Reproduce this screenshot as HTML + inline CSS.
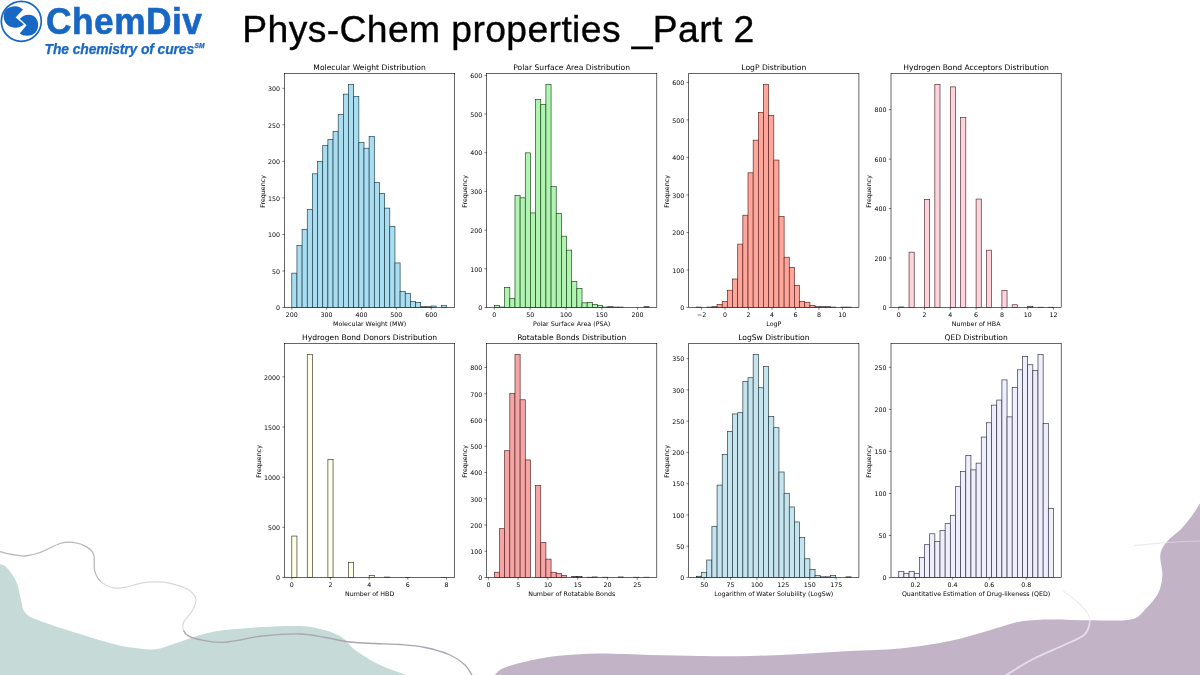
<!DOCTYPE html>
<html><head><meta charset="utf-8"><title>Phys-Chem properties _Part 2</title>
<style>
html,body{margin:0;padding:0;background:#fff;}
body{width:1200px;height:675px;position:relative;overflow:hidden;font-family:"Liberation Sans",sans-serif;}
svg{position:absolute;left:0;top:0;}
svg text{font-family:"DejaVu Sans","Liberation Sans",sans-serif;}
#title{position:absolute;left:242.3px;top:7px;font-size:37.3px;line-height:44px;color:#000;white-space:nowrap;letter-spacing:0.38px;-webkit-text-stroke:0.35px #000;}
#brand{position:absolute;left:46.2px;top:-1.4px;font-size:37.6px;line-height:44px;font-weight:bold;color:#1767c4;white-space:nowrap;letter-spacing:0.5px;transform-origin:0 0;transform:scaleX(0.94);-webkit-text-stroke:0.6px #1767c4;}
#tag{position:absolute;left:44.6px;top:41.3px;font-size:13.9px;line-height:16px;font-weight:bold;font-style:italic;color:#1767c4;white-space:nowrap;letter-spacing:-0.12px;-webkit-text-stroke:0.25px #1767c4;}
#tag sup{font-size:6.6px;font-style:italic;vertical-align:baseline;position:relative;top:-6.6px;margin-left:0.5px;letter-spacing:0;}
</style></head><body>
<svg width="1200" height="675" viewBox="0 0 1200 675">

<path d="M-2.0 564.0C-0.8 564.3 2.6 564.2 5.0 566.0C7.4 567.8 10.4 571.8 12.5 575.0C14.6 578.2 16.1 580.8 17.5 585.0C18.9 589.2 19.8 595.4 21.0 600.0C22.2 604.6 22.2 609.2 25.0 612.5C27.8 615.8 29.2 616.7 37.5 620.0C45.8 623.3 62.5 628.5 75.0 632.5C87.5 636.5 103.2 641.2 112.5 643.8C121.8 646.2 123.9 646.6 131.0 647.5C138.1 648.4 147.7 650.0 155.0 649.3C162.3 648.6 167.5 645.9 175.0 643.5C182.5 641.1 191.7 637.2 200.0 635.0C208.3 632.8 214.6 631.3 225.0 630.0C235.4 628.7 250.0 627.7 262.5 627.0C275.0 626.3 290.4 625.7 300.0 626.0C309.6 626.3 313.3 627.3 320.0 629.0C326.7 630.7 334.2 632.5 340.0 636.0C345.8 639.5 349.2 645.6 355.0 650.0C360.8 654.4 368.3 659.0 375.0 662.5C381.7 666.0 388.8 668.6 395.0 671.0C401.2 673.4 409.2 676.0 412.0 677.0L-2 677Z" fill="#c6dad8"/>
<path d="M493.0 677.0C494.2 675.8 496.8 672.0 500.0 670.0C503.2 668.0 506.2 666.8 512.5 665.0C518.8 663.2 529.2 660.6 537.5 659.0C545.8 657.4 552.1 656.4 562.5 655.5C572.9 654.6 585.4 653.6 600.0 653.5C614.6 653.4 633.3 654.6 650.0 655.0C666.7 655.4 683.3 655.8 700.0 656.0C716.7 656.2 733.3 656.3 750.0 656.0C766.7 655.7 783.3 654.8 800.0 654.0C816.7 653.2 833.3 651.9 850.0 651.0C866.7 650.1 883.3 650.2 900.0 648.5C916.7 646.8 935.2 644.0 950.0 641.0C964.8 638.0 977.6 633.8 989.0 630.6C1000.4 627.4 1008.8 623.8 1018.6 622.0C1028.4 620.2 1036.2 619.9 1048.0 619.6C1059.8 619.3 1075.9 620.3 1089.7 620.3C1103.5 620.3 1121.6 621.4 1131.0 619.4C1140.4 617.4 1141.5 612.7 1146.0 608.4C1150.5 604.1 1155.3 599.0 1158.0 593.6C1160.7 588.2 1162.0 582.2 1162.4 575.8C1162.8 569.4 1159.6 560.7 1160.3 555.0C1161.0 549.3 1163.2 546.1 1166.8 541.7C1170.3 537.3 1177.1 533.1 1181.6 528.4C1186.0 523.7 1190.1 518.2 1193.5 513.5C1196.9 508.8 1200.6 502.2 1202.0 500.0L1202 677Z" fill="#c2b3c7"/>
<path d="M-2.0 551.0C0.3 551.6 7.5 553.7 12.0 554.5C16.5 555.3 20.3 556.3 25.0 556.0C29.7 555.7 34.2 554.6 40.0 552.5C45.8 550.4 54.5 545.2 60.0 543.5C65.5 541.8 68.8 541.8 73.3 542.4C77.8 543.0 83.3 544.8 86.7 546.9C90.1 549.0 92.5 550.9 93.8 554.9C95.1 558.9 93.5 566.4 94.7 570.9C95.9 575.4 97.8 578.8 100.9 581.6" fill="none" stroke="#b9b7bc" stroke-width="1.3"/>
<path d="M100.9 581.6C104.0 584.4 109.2 586.9 113.3 587.8C117.4 588.7 121.3 588.0 125.8 587.2C130.2 586.5 135.3 584.2 140.0 583.3C144.7 582.4 149.2 581.9 154.2 581.9C159.2 581.9 164.6 582.0 170.2 583.3C175.8 584.6 183.7 586.9 188.0 589.6C192.3 592.3 195.4 595.6 196.0 599.3C196.6 603.0 193.7 607.9 191.6 611.8C189.5 615.6 184.9 619.3 183.6 622.4C182.3 625.5 182.6 628.0 183.6 630.4" fill="none" stroke="#d9d7da" stroke-width="1.2"/>
<path d="M183.6 630.4C184.6 632.8 186.7 635.1 189.8 636.7C192.9 638.3 197.2 639.2 202.2 640.2C207.2 641.2 213.7 642.4 220.0 642.4C226.3 642.4 233.0 641.1 240.0 640.0C247.0 638.9 252.0 637.0 262.0 636.0C272.0 635.0 289.5 633.8 300.0 634.0C310.5 634.2 316.7 636.2 325.0 637.5C333.3 638.8 341.7 641.0 350.0 642.0C358.3 643.0 366.7 643.1 375.0 643.5C383.3 643.9 391.7 643.8 400.0 644.5C408.3 645.2 416.7 645.8 425.0 647.5C433.3 649.2 443.3 652.1 450.0 655.0C456.7 657.9 461.2 661.3 465.0 665.0C468.8 668.7 471.7 675.0 473.0 677.0" fill="none" stroke="#a9a6b0" stroke-width="1.3"/>
<path d="M1063.0 590.6C1065.5 592.6 1073.8 598.6 1078.0 602.5C1082.2 606.4 1086.0 610.6 1088.0 614.0C1090.0 617.4 1090.4 619.5 1089.7 623.0" fill="none" stroke="#ececee" stroke-width="1.1"/>
<path d="M1089.7 623.0C1089.0 626.5 1088.5 631.2 1084.0 635.0C1079.5 638.8 1071.5 641.5 1063.0 645.5C1054.5 649.5 1043.0 653.8 1033.0 659.0C1023.0 664.2 1008.0 674.0 1003.0 677.0" fill="none" stroke="#e6deea" stroke-width="1.8"/>
<path d="M1134.0 545.6C1139.5 545.1 1155.7 543.4 1167.0 542.6" fill="none" stroke="#e6e5e8" stroke-width="0.9"/>
<path d="M1167.0 542.6C1178.3 541.8 1196.2 541.1 1202.0 540.8" fill="none" stroke="#dbd1e0" stroke-width="0.9"/>


<g fill="#1767c4">
<circle cx="21.3" cy="21.3" r="20.0" fill="none" stroke="#1767c4" stroke-width="1.7"/>
<path d="M5.5 10.1C9 6.5 15 5.6 19.3 6.9L23 9.6L15.6 17.4L23.9 24.3C20 28.5 12 28.8 7.5 25C3.2 21.5 2.6 14.5 5.5 10.1Z"/>
<path d="M22 17C25.5 14 31.2 13.7 35 17C39 21 39.2 28.5 35.5 32.5C31.5 36.5 24.5 36.8 19.7 33.5L26.6 25.3L19.7 18.8Z"/>
</g>

<g>
<rect x="284.50" y="73.50" width="170.20" height="234.00" fill="#fff"/>
<clipPath id="cp0"><rect x="284.50" y="73.50" width="170.20" height="234.00"/></clipPath>
<g clip-path="url(#cp0)" fill="rgb(171,221,241)" stroke="rgb(24,59,73)" stroke-width="0.66">
<rect x="291.79" y="273.16" width="5.16" height="34.34"/>
<rect x="296.94" y="245.39" width="5.16" height="62.11"/>
<rect x="302.10" y="229.32" width="5.16" height="78.18"/>
<rect x="307.26" y="209.59" width="5.16" height="97.91"/>
<rect x="312.42" y="173.79" width="5.16" height="133.71"/>
<rect x="317.57" y="161.36" width="5.16" height="146.14"/>
<rect x="322.73" y="145.29" width="5.16" height="162.21"/>
<rect x="327.89" y="139.44" width="5.16" height="168.06"/>
<rect x="333.05" y="131.41" width="5.16" height="176.09"/>
<rect x="338.20" y="114.60" width="5.16" height="192.90"/>
<rect x="343.36" y="94.14" width="5.16" height="213.36"/>
<rect x="348.52" y="84.64" width="5.16" height="222.86"/>
<rect x="353.68" y="96.33" width="5.16" height="211.17"/>
<rect x="358.83" y="142.37" width="5.16" height="165.13"/>
<rect x="363.99" y="148.21" width="5.16" height="159.29"/>
<rect x="369.15" y="136.52" width="5.16" height="170.98"/>
<rect x="374.31" y="182.55" width="5.16" height="124.95"/>
<rect x="379.47" y="193.51" width="5.16" height="113.99"/>
<rect x="384.62" y="208.13" width="5.16" height="99.37"/>
<rect x="389.78" y="226.39" width="5.16" height="81.11"/>
<rect x="394.94" y="262.93" width="5.16" height="44.57"/>
<rect x="400.10" y="291.43" width="5.16" height="16.07"/>
<rect x="405.25" y="293.62" width="5.16" height="13.88"/>
<rect x="410.41" y="301.65" width="5.16" height="5.85"/>
<rect x="415.57" y="302.39" width="5.16" height="5.11"/>
<rect x="420.73" y="306.77" width="5.16" height="0.73" stroke="#111"/>
<rect x="425.88" y="306.77" width="5.16" height="0.73" stroke="#111"/>
<rect x="431.04" y="306.04" width="5.16" height="1.46"/>
<rect x="436.20" y="307.50" width="5.16" height="0.00" stroke="#111"/>
<rect x="441.36" y="305.31" width="5.16" height="2.19"/>
</g>
<rect x="284.50" y="73.50" width="170.20" height="234.00" fill="none" stroke="#000" stroke-width="0.6"/>
<path d="M291.79 307.50v2.2M326.63 307.50v2.2M361.48 307.50v2.2M396.33 307.50v2.2M431.18 307.50v2.2M284.50 307.50h-2.2M284.50 270.97h-2.2M284.50 234.43h-2.2M284.50 197.90h-2.2M284.50 161.36h-2.2M284.50 124.83h-2.2M284.50 88.30h-2.2" stroke="#000" stroke-width="0.5" fill="none"/>
<g transform="scale(0.1)" font-size="63.00" fill="#000">
<text x="2917.9" y="3167.0" text-anchor="middle">200</text>
<text x="3266.3" y="3167.0" text-anchor="middle">300</text>
<text x="3614.8" y="3167.0" text-anchor="middle">400</text>
<text x="3963.3" y="3167.0" text-anchor="middle">500</text>
<text x="4311.8" y="3167.0" text-anchor="middle">600</text>
<text x="2801.0" y="3102.5" text-anchor="end">0</text>
<text x="2801.0" y="2737.2" text-anchor="end">50</text>
<text x="2801.0" y="2371.8" text-anchor="end">100</text>
<text x="2801.0" y="2006.5" text-anchor="end">150</text>
<text x="2801.0" y="1641.1" text-anchor="end">200</text>
<text x="2801.0" y="1275.8" text-anchor="end">250</text>
<text x="2801.0" y="910.5" text-anchor="end">300</text>
<text x="3696.0" y="3257.0" text-anchor="middle">Molecular Weight (MW)</text>
<text transform="translate(2647.7 1914.0) rotate(-90)" text-anchor="middle">Frequency</text>
<text x="3696.0" y="699.0" text-anchor="middle" font-size="76.00">Molecular Weight Distribution</text>
</g>
</g>
<g>
<rect x="486.60" y="73.50" width="170.20" height="234.00" fill="#fff"/>
<clipPath id="cp1"><rect x="486.60" y="73.50" width="170.20" height="234.00"/></clipPath>
<g clip-path="url(#cp1)" fill="rgb(177,243,177)" stroke="rgb(23,69,23)" stroke-width="0.66">
<rect x="494.34" y="305.56" width="5.16" height="1.94"/>
<rect x="499.49" y="307.11" width="5.16" height="0.39" stroke="#111"/>
<rect x="504.65" y="287.35" width="5.16" height="20.15"/>
<rect x="509.81" y="298.59" width="5.16" height="8.91"/>
<rect x="514.97" y="195.49" width="5.16" height="112.01"/>
<rect x="520.12" y="197.82" width="5.16" height="109.68"/>
<rect x="525.28" y="152.86" width="5.16" height="154.64"/>
<rect x="530.44" y="212.93" width="5.16" height="94.57"/>
<rect x="535.60" y="99.37" width="5.16" height="208.13"/>
<rect x="540.75" y="104.41" width="5.16" height="203.09"/>
<rect x="545.91" y="84.64" width="5.16" height="222.86"/>
<rect x="551.07" y="186.58" width="5.16" height="120.92"/>
<rect x="556.23" y="213.32" width="5.16" height="94.18"/>
<rect x="561.38" y="236.19" width="5.16" height="71.31"/>
<rect x="566.54" y="250.14" width="5.16" height="57.36"/>
<rect x="571.70" y="281.53" width="5.16" height="25.97"/>
<rect x="576.86" y="288.51" width="5.16" height="18.99"/>
<rect x="582.02" y="302.85" width="5.16" height="4.65"/>
<rect x="587.17" y="302.46" width="5.16" height="5.04"/>
<rect x="592.33" y="304.40" width="5.16" height="3.10"/>
<rect x="597.49" y="305.56" width="5.16" height="1.94"/>
<rect x="602.65" y="307.11" width="5.16" height="0.39" stroke="#111"/>
<rect x="607.80" y="306.72" width="5.16" height="0.78" stroke="#111"/>
<rect x="612.96" y="307.11" width="5.16" height="0.39" stroke="#111"/>
<rect x="618.12" y="307.11" width="5.16" height="0.39" stroke="#111"/>
<rect x="623.28" y="307.50" width="5.16" height="0.00" stroke="#111"/>
<rect x="628.43" y="307.50" width="5.16" height="0.00" stroke="#111"/>
<rect x="633.59" y="307.50" width="5.16" height="0.00" stroke="#111"/>
<rect x="638.75" y="307.50" width="5.16" height="0.00" stroke="#111"/>
<rect x="643.91" y="306.72" width="5.16" height="0.78" stroke="#111"/>
</g>
<rect x="486.60" y="73.50" width="170.20" height="234.00" fill="none" stroke="#000" stroke-width="0.6"/>
<path d="M494.34 307.50v2.2M530.15 307.50v2.2M565.97 307.50v2.2M601.79 307.50v2.2M637.60 307.50v2.2M486.60 307.50h-2.2M486.60 268.81h-2.2M486.60 230.12h-2.2M486.60 191.43h-2.2M486.60 152.74h-2.2M486.60 114.05h-2.2M486.60 75.36h-2.2" stroke="#000" stroke-width="0.5" fill="none"/>
<g transform="scale(0.1)" font-size="63.00" fill="#000">
<text x="4943.4" y="3167.0" text-anchor="middle">0</text>
<text x="5301.5" y="3167.0" text-anchor="middle">50</text>
<text x="5659.7" y="3167.0" text-anchor="middle">100</text>
<text x="6017.9" y="3167.0" text-anchor="middle">150</text>
<text x="6376.0" y="3167.0" text-anchor="middle">200</text>
<text x="4822.0" y="3102.5" text-anchor="end">0</text>
<text x="4822.0" y="2715.6" text-anchor="end">100</text>
<text x="4822.0" y="2328.7" text-anchor="end">200</text>
<text x="4822.0" y="1941.8" text-anchor="end">300</text>
<text x="4822.0" y="1554.9" text-anchor="end">400</text>
<text x="4822.0" y="1168.0" text-anchor="end">500</text>
<text x="4822.0" y="781.1" text-anchor="end">600</text>
<text x="5717.0" y="3257.0" text-anchor="middle">Polar Surface Area (PSA)</text>
<text transform="translate(4668.7 1914.0) rotate(-90)" text-anchor="middle">Frequency</text>
<text x="5717.0" y="699.0" text-anchor="middle" font-size="76.00">Polar Surface Area Distribution</text>
</g>
</g>
<g>
<rect x="688.70" y="73.50" width="170.20" height="234.00" fill="#fff"/>
<clipPath id="cp2"><rect x="688.70" y="73.50" width="170.20" height="234.00"/></clipPath>
<g clip-path="url(#cp2)" fill="rgb(252,166,156)" stroke="rgb(93,33,26)" stroke-width="0.66">
<rect x="696.44" y="307.12" width="5.16" height="0.38" stroke="#111"/>
<rect x="701.59" y="307.50" width="5.16" height="0.00" stroke="#111"/>
<rect x="706.75" y="307.12" width="5.16" height="0.38" stroke="#111"/>
<rect x="711.91" y="306.75" width="5.16" height="0.75" stroke="#111"/>
<rect x="717.07" y="304.50" width="5.16" height="3.00"/>
<rect x="722.22" y="301.50" width="5.16" height="6.00"/>
<rect x="727.38" y="290.24" width="5.16" height="17.26"/>
<rect x="732.54" y="278.99" width="5.16" height="28.51"/>
<rect x="737.70" y="244.09" width="5.16" height="63.41"/>
<rect x="742.85" y="215.21" width="5.16" height="92.29"/>
<rect x="748.01" y="172.81" width="5.16" height="134.69"/>
<rect x="753.17" y="140.17" width="5.16" height="167.33"/>
<rect x="758.33" y="112.41" width="5.16" height="195.09"/>
<rect x="763.48" y="84.64" width="5.16" height="222.86"/>
<rect x="768.64" y="115.41" width="5.16" height="192.09"/>
<rect x="773.80" y="160.05" width="5.16" height="147.45"/>
<rect x="778.96" y="216.33" width="5.16" height="91.17"/>
<rect x="784.12" y="257.23" width="5.16" height="50.27"/>
<rect x="789.27" y="267.36" width="5.16" height="40.14"/>
<rect x="794.43" y="285.36" width="5.16" height="22.14"/>
<rect x="799.59" y="301.50" width="5.16" height="6.00"/>
<rect x="804.75" y="302.25" width="5.16" height="5.25"/>
<rect x="809.90" y="305.62" width="5.16" height="1.88"/>
<rect x="815.06" y="306.75" width="5.16" height="0.75" stroke="#111"/>
<rect x="820.22" y="306.75" width="5.16" height="0.75" stroke="#111"/>
<rect x="825.38" y="306.75" width="5.16" height="0.75" stroke="#111"/>
<rect x="830.53" y="307.12" width="5.16" height="0.38" stroke="#111"/>
<rect x="835.69" y="307.50" width="5.16" height="0.00" stroke="#111"/>
<rect x="840.85" y="307.12" width="5.16" height="0.38" stroke="#111"/>
<rect x="846.01" y="307.12" width="5.16" height="0.38" stroke="#111"/>
</g>
<rect x="688.70" y="73.50" width="170.20" height="234.00" fill="none" stroke="#000" stroke-width="0.6"/>
<path d="M701.60 307.50v2.2M725.06 307.50v2.2M748.52 307.50v2.2M771.98 307.50v2.2M795.44 307.50v2.2M818.90 307.50v2.2M842.37 307.50v2.2M688.70 307.50h-2.2M688.70 269.98h-2.2M688.70 232.46h-2.2M688.70 194.95h-2.2M688.70 157.43h-2.2M688.70 119.91h-2.2M688.70 82.39h-2.2" stroke="#000" stroke-width="0.5" fill="none"/>
<g transform="scale(0.1)" font-size="63.00" fill="#000">
<text x="7016.0" y="3167.0" text-anchor="middle">−2</text>
<text x="7250.6" y="3167.0" text-anchor="middle">0</text>
<text x="7485.2" y="3167.0" text-anchor="middle">2</text>
<text x="7719.8" y="3167.0" text-anchor="middle">4</text>
<text x="7954.4" y="3167.0" text-anchor="middle">6</text>
<text x="8189.0" y="3167.0" text-anchor="middle">8</text>
<text x="8423.7" y="3167.0" text-anchor="middle">10</text>
<text x="6843.0" y="3102.5" text-anchor="end">0</text>
<text x="6843.0" y="2727.3" text-anchor="end">100</text>
<text x="6843.0" y="2352.1" text-anchor="end">200</text>
<text x="6843.0" y="1977.0" text-anchor="end">300</text>
<text x="6843.0" y="1601.8" text-anchor="end">400</text>
<text x="6843.0" y="1226.6" text-anchor="end">500</text>
<text x="6843.0" y="851.4" text-anchor="end">600</text>
<text x="7738.0" y="3257.0" text-anchor="middle">LogP</text>
<text transform="translate(6689.7 1914.0) rotate(-90)" text-anchor="middle">Frequency</text>
<text x="7738.0" y="699.0" text-anchor="middle" font-size="76.00">LogP Distribution</text>
</g>
</g>
<g>
<rect x="891.00" y="73.50" width="170.20" height="234.00" fill="#fff"/>
<clipPath id="cp3"><rect x="891.00" y="73.50" width="170.20" height="234.00"/></clipPath>
<g clip-path="url(#cp3)" fill="rgb(255,211,219)" stroke="rgb(71,40,46)" stroke-width="0.66">
<rect x="898.74" y="307.00" width="5.16" height="0.50" stroke="#111"/>
<rect x="903.89" y="307.50" width="5.16" height="0.00" stroke="#111"/>
<rect x="909.05" y="252.16" width="5.16" height="55.34"/>
<rect x="914.21" y="307.50" width="5.16" height="0.00" stroke="#111"/>
<rect x="919.37" y="307.50" width="5.16" height="0.00" stroke="#111"/>
<rect x="924.52" y="199.55" width="5.16" height="107.95"/>
<rect x="929.68" y="307.50" width="5.16" height="0.00" stroke="#111"/>
<rect x="934.84" y="84.64" width="5.16" height="222.86"/>
<rect x="940.00" y="307.50" width="5.16" height="0.00" stroke="#111"/>
<rect x="945.15" y="307.50" width="5.16" height="0.00" stroke="#111"/>
<rect x="950.31" y="86.88" width="5.16" height="220.62"/>
<rect x="955.47" y="307.50" width="5.16" height="0.00" stroke="#111"/>
<rect x="960.63" y="117.65" width="5.16" height="189.85"/>
<rect x="965.78" y="307.50" width="5.16" height="0.00" stroke="#111"/>
<rect x="970.94" y="307.50" width="5.16" height="0.00" stroke="#111"/>
<rect x="976.10" y="199.05" width="5.16" height="108.45"/>
<rect x="981.26" y="307.50" width="5.16" height="0.00" stroke="#111"/>
<rect x="986.42" y="250.17" width="5.16" height="57.33"/>
<rect x="991.57" y="307.50" width="5.16" height="0.00" stroke="#111"/>
<rect x="996.73" y="307.50" width="5.16" height="0.00" stroke="#111"/>
<rect x="1001.89" y="290.38" width="5.16" height="17.12"/>
<rect x="1007.05" y="307.50" width="5.16" height="0.00" stroke="#111"/>
<rect x="1012.20" y="304.77" width="5.16" height="2.73"/>
<rect x="1017.36" y="307.50" width="5.16" height="0.00" stroke="#111"/>
<rect x="1022.52" y="307.50" width="5.16" height="0.00" stroke="#111"/>
<rect x="1027.68" y="306.26" width="5.16" height="1.24" stroke="#111"/>
<rect x="1032.83" y="307.50" width="5.16" height="0.00" stroke="#111"/>
<rect x="1037.99" y="307.25" width="5.16" height="0.25" stroke="#111"/>
<rect x="1043.15" y="307.50" width="5.16" height="0.00" stroke="#111"/>
<rect x="1048.31" y="307.25" width="5.16" height="0.25" stroke="#111"/>
</g>
<rect x="891.00" y="73.50" width="170.20" height="234.00" fill="none" stroke="#000" stroke-width="0.6"/>
<path d="M898.74 307.50v2.2M924.52 307.50v2.2M950.31 307.50v2.2M976.10 307.50v2.2M1001.89 307.50v2.2M1027.68 307.50v2.2M1053.46 307.50v2.2M891.00 307.50h-2.2M891.00 258.03h-2.2M891.00 208.56h-2.2M891.00 159.09h-2.2M891.00 109.62h-2.2" stroke="#000" stroke-width="0.5" fill="none"/>
<g transform="scale(0.1)" font-size="63.00" fill="#000">
<text x="8987.4" y="3167.0" text-anchor="middle">0</text>
<text x="9245.2" y="3167.0" text-anchor="middle">2</text>
<text x="9503.1" y="3167.0" text-anchor="middle">4</text>
<text x="9761.0" y="3167.0" text-anchor="middle">6</text>
<text x="10018.9" y="3167.0" text-anchor="middle">8</text>
<text x="10276.8" y="3167.0" text-anchor="middle">10</text>
<text x="10534.6" y="3167.0" text-anchor="middle">12</text>
<text x="8866.0" y="3102.5" text-anchor="end">0</text>
<text x="8866.0" y="2607.8" text-anchor="end">200</text>
<text x="8866.0" y="2113.1" text-anchor="end">400</text>
<text x="8866.0" y="1618.4" text-anchor="end">600</text>
<text x="8866.0" y="1123.7" text-anchor="end">800</text>
<text x="9761.0" y="3257.0" text-anchor="middle">Number of HBA</text>
<text transform="translate(8712.7 1914.0) rotate(-90)" text-anchor="middle">Frequency</text>
<text x="9761.0" y="699.0" text-anchor="middle" font-size="76.00">Hydrogen Bond Acceptors Distribution</text>
</g>
</g>
<g>
<rect x="284.50" y="343.50" width="170.20" height="234.00" fill="#fff"/>
<clipPath id="cp4"><rect x="284.50" y="343.50" width="170.20" height="234.00"/></clipPath>
<g clip-path="url(#cp4)" fill="rgb(255,255,233)" stroke="rgb(52,52,37)" stroke-width="0.66">
<rect x="291.79" y="536.06" width="5.16" height="41.44"/>
<rect x="296.94" y="577.50" width="5.16" height="0.00" stroke="#111"/>
<rect x="302.10" y="577.50" width="5.16" height="0.00" stroke="#111"/>
<rect x="307.26" y="354.64" width="5.16" height="222.86"/>
<rect x="312.42" y="577.50" width="5.16" height="0.00" stroke="#111"/>
<rect x="317.57" y="577.50" width="5.16" height="0.00" stroke="#111"/>
<rect x="322.73" y="577.50" width="5.16" height="0.00" stroke="#111"/>
<rect x="327.89" y="459.60" width="5.16" height="117.90"/>
<rect x="333.05" y="577.50" width="5.16" height="0.00" stroke="#111"/>
<rect x="338.20" y="577.50" width="5.16" height="0.00" stroke="#111"/>
<rect x="343.36" y="577.50" width="5.16" height="0.00" stroke="#111"/>
<rect x="348.52" y="562.65" width="5.16" height="14.85"/>
<rect x="353.68" y="577.50" width="5.16" height="0.00" stroke="#111"/>
<rect x="358.83" y="577.50" width="5.16" height="0.00" stroke="#111"/>
<rect x="363.99" y="577.50" width="5.16" height="0.00" stroke="#111"/>
<rect x="369.15" y="575.49" width="5.16" height="2.01"/>
<rect x="374.31" y="577.50" width="5.16" height="0.00" stroke="#111"/>
<rect x="379.47" y="577.50" width="5.16" height="0.00" stroke="#111"/>
<rect x="384.62" y="577.10" width="5.16" height="0.40" stroke="#111"/>
<rect x="389.78" y="577.50" width="5.16" height="0.00" stroke="#111"/>
<rect x="394.94" y="577.50" width="5.16" height="0.00" stroke="#111"/>
<rect x="400.10" y="577.50" width="5.16" height="0.00" stroke="#111"/>
<rect x="405.25" y="577.40" width="5.16" height="0.10" stroke="#111"/>
<rect x="410.41" y="577.50" width="5.16" height="0.00" stroke="#111"/>
<rect x="415.57" y="577.50" width="5.16" height="0.00" stroke="#111"/>
<rect x="420.73" y="577.50" width="5.16" height="0.00" stroke="#111"/>
<rect x="425.88" y="577.50" width="5.16" height="0.00" stroke="#111"/>
<rect x="431.04" y="577.50" width="5.16" height="0.00" stroke="#111"/>
<rect x="436.20" y="577.50" width="5.16" height="0.00" stroke="#111"/>
<rect x="441.36" y="577.40" width="5.16" height="0.10" stroke="#111"/>
</g>
<rect x="284.50" y="343.50" width="170.20" height="234.00" fill="none" stroke="#000" stroke-width="0.6"/>
<path d="M291.79 577.50v2.2M330.47 577.50v2.2M369.15 577.50v2.2M407.83 577.50v2.2M446.51 577.50v2.2M284.50 577.50h-2.2M284.50 527.33h-2.2M284.50 477.16h-2.2M284.50 426.99h-2.2M284.50 376.82h-2.2" stroke="#000" stroke-width="0.5" fill="none"/>
<g transform="scale(0.1)" font-size="63.00" fill="#000">
<text x="2917.9" y="5867.0" text-anchor="middle">0</text>
<text x="3304.7" y="5867.0" text-anchor="middle">2</text>
<text x="3691.5" y="5867.0" text-anchor="middle">4</text>
<text x="4078.3" y="5867.0" text-anchor="middle">6</text>
<text x="4465.1" y="5867.0" text-anchor="middle">8</text>
<text x="2801.0" y="5802.5" text-anchor="end">0</text>
<text x="2801.0" y="5300.8" text-anchor="end">500</text>
<text x="2801.0" y="4799.1" text-anchor="end">1000</text>
<text x="2801.0" y="4297.4" text-anchor="end">1500</text>
<text x="2801.0" y="3795.7" text-anchor="end">2000</text>
<text x="3696.0" y="5957.0" text-anchor="middle">Number of HBD</text>
<text transform="translate(2607.6 4614.0) rotate(-90)" text-anchor="middle">Frequency</text>
<text x="3696.0" y="3399.0" text-anchor="middle" font-size="76.00">Hydrogen Bond Donors Distribution</text>
</g>
</g>
<g>
<rect x="486.60" y="343.50" width="170.20" height="234.00" fill="#fff"/>
<clipPath id="cp5"><rect x="486.60" y="343.50" width="170.20" height="234.00"/></clipPath>
<g clip-path="url(#cp5)" fill="rgb(244,166,166)" stroke="rgb(88,34,34)" stroke-width="0.66">
<rect x="494.34" y="572.25" width="5.16" height="5.25"/>
<rect x="499.49" y="528.68" width="5.16" height="48.82"/>
<rect x="504.65" y="450.72" width="5.16" height="126.78"/>
<rect x="509.81" y="393.49" width="5.16" height="184.01"/>
<rect x="514.97" y="354.64" width="5.16" height="222.86"/>
<rect x="520.12" y="399.79" width="5.16" height="177.71"/>
<rect x="525.28" y="459.90" width="5.16" height="117.60"/>
<rect x="530.44" y="577.50" width="5.16" height="0.00" stroke="#111"/>
<rect x="535.60" y="485.63" width="5.16" height="91.87"/>
<rect x="540.75" y="542.59" width="5.16" height="34.91"/>
<rect x="545.91" y="559.13" width="5.16" height="18.37"/>
<rect x="551.07" y="572.25" width="5.16" height="5.25"/>
<rect x="556.23" y="573.30" width="5.16" height="4.20"/>
<rect x="561.38" y="575.40" width="5.16" height="2.10"/>
<rect x="566.54" y="577.50" width="5.16" height="0.00" stroke="#111"/>
<rect x="571.70" y="576.45" width="5.16" height="1.05" stroke="#111"/>
<rect x="576.86" y="576.45" width="5.16" height="1.05" stroke="#111"/>
<rect x="582.02" y="577.50" width="5.16" height="0.00" stroke="#111"/>
<rect x="587.17" y="577.24" width="5.16" height="0.26" stroke="#111"/>
<rect x="592.33" y="576.98" width="5.16" height="0.52" stroke="#111"/>
<rect x="597.49" y="577.50" width="5.16" height="0.00" stroke="#111"/>
<rect x="602.65" y="577.24" width="5.16" height="0.26" stroke="#111"/>
<rect x="607.80" y="577.50" width="5.16" height="0.00" stroke="#111"/>
<rect x="612.96" y="577.50" width="5.16" height="0.00" stroke="#111"/>
<rect x="618.12" y="576.98" width="5.16" height="0.52" stroke="#111"/>
<rect x="623.28" y="577.50" width="5.16" height="0.00" stroke="#111"/>
<rect x="628.43" y="577.50" width="5.16" height="0.00" stroke="#111"/>
<rect x="633.59" y="577.24" width="5.16" height="0.26" stroke="#111"/>
<rect x="638.75" y="577.50" width="5.16" height="0.00" stroke="#111"/>
<rect x="643.91" y="577.24" width="5.16" height="0.26" stroke="#111"/>
</g>
<rect x="486.60" y="343.50" width="170.20" height="234.00" fill="none" stroke="#000" stroke-width="0.6"/>
<path d="M488.39 577.50v2.2M518.14 577.50v2.2M547.90 577.50v2.2M577.65 577.50v2.2M607.41 577.50v2.2M637.16 577.50v2.2M486.60 577.50h-2.2M486.60 551.25h-2.2M486.60 525.00h-2.2M486.60 498.75h-2.2M486.60 472.50h-2.2M486.60 446.25h-2.2M486.60 420.00h-2.2M486.60 393.75h-2.2M486.60 367.51h-2.2" stroke="#000" stroke-width="0.5" fill="none"/>
<g transform="scale(0.1)" font-size="63.00" fill="#000">
<text x="4883.9" y="5867.0" text-anchor="middle">0</text>
<text x="5181.4" y="5867.0" text-anchor="middle">5</text>
<text x="5479.0" y="5867.0" text-anchor="middle">10</text>
<text x="5776.5" y="5867.0" text-anchor="middle">15</text>
<text x="6074.1" y="5867.0" text-anchor="middle">20</text>
<text x="6371.6" y="5867.0" text-anchor="middle">25</text>
<text x="4822.0" y="5802.5" text-anchor="end">0</text>
<text x="4822.0" y="5540.0" text-anchor="end">100</text>
<text x="4822.0" y="5277.5" text-anchor="end">200</text>
<text x="4822.0" y="5015.0" text-anchor="end">300</text>
<text x="4822.0" y="4752.5" text-anchor="end">400</text>
<text x="4822.0" y="4490.0" text-anchor="end">500</text>
<text x="4822.0" y="4227.5" text-anchor="end">600</text>
<text x="4822.0" y="3965.0" text-anchor="end">700</text>
<text x="4822.0" y="3702.6" text-anchor="end">800</text>
<text x="5717.0" y="5957.0" text-anchor="middle">Number of Rotatable Bonds</text>
<text transform="translate(4668.7 4614.0) rotate(-90)" text-anchor="middle">Frequency</text>
<text x="5717.0" y="3399.0" text-anchor="middle" font-size="76.00">Rotatable Bonds Distribution</text>
</g>
</g>
<g>
<rect x="688.70" y="343.50" width="170.20" height="234.00" fill="#fff"/>
<clipPath id="cp6"><rect x="688.70" y="343.50" width="170.20" height="234.00"/></clipPath>
<g clip-path="url(#cp6)" fill="rgb(198,228,238)" stroke="rgb(34,56,62)" stroke-width="0.66">
<rect x="696.44" y="576.25" width="5.16" height="1.25" stroke="#111"/>
<rect x="701.59" y="572.51" width="5.16" height="4.99"/>
<rect x="706.75" y="560.02" width="5.16" height="17.48"/>
<rect x="711.91" y="526.31" width="5.16" height="51.19"/>
<rect x="717.07" y="485.11" width="5.16" height="92.39"/>
<rect x="722.22" y="454.52" width="5.16" height="122.98"/>
<rect x="727.38" y="431.43" width="5.16" height="146.07"/>
<rect x="732.54" y="413.95" width="5.16" height="163.55"/>
<rect x="737.70" y="412.70" width="5.16" height="164.80"/>
<rect x="742.85" y="381.49" width="5.16" height="196.01"/>
<rect x="748.01" y="377.74" width="5.16" height="199.76"/>
<rect x="753.17" y="354.64" width="5.16" height="222.86"/>
<rect x="758.33" y="387.73" width="5.16" height="189.77"/>
<rect x="763.48" y="366.50" width="5.16" height="211.00"/>
<rect x="768.64" y="416.44" width="5.16" height="161.06"/>
<rect x="773.80" y="427.68" width="5.16" height="149.82"/>
<rect x="778.96" y="472.00" width="5.16" height="105.50"/>
<rect x="784.12" y="493.23" width="5.16" height="84.27"/>
<rect x="789.27" y="506.96" width="5.16" height="70.54"/>
<rect x="794.43" y="521.94" width="5.16" height="55.56"/>
<rect x="799.59" y="537.55" width="5.16" height="39.95"/>
<rect x="804.75" y="558.77" width="5.16" height="18.73"/>
<rect x="809.90" y="569.38" width="5.16" height="8.12"/>
<rect x="815.06" y="575.63" width="5.16" height="1.87"/>
<rect x="820.22" y="576.88" width="5.16" height="0.62" stroke="#111"/>
<rect x="825.38" y="576.88" width="5.16" height="0.62" stroke="#111"/>
<rect x="830.53" y="575.63" width="5.16" height="1.87"/>
<rect x="835.69" y="577.50" width="5.16" height="0.00" stroke="#111"/>
<rect x="840.85" y="577.50" width="5.16" height="0.00" stroke="#111"/>
<rect x="846.01" y="576.88" width="5.16" height="0.62" stroke="#111"/>
</g>
<rect x="688.70" y="343.50" width="170.20" height="234.00" fill="none" stroke="#000" stroke-width="0.6"/>
<path d="M704.15 577.50v2.2M730.55 577.50v2.2M756.95 577.50v2.2M783.36 577.50v2.2M809.76 577.50v2.2M836.17 577.50v2.2M688.70 577.50h-2.2M688.70 546.23h-2.2M688.70 514.95h-2.2M688.70 483.68h-2.2M688.70 452.40h-2.2M688.70 421.13h-2.2M688.70 389.86h-2.2M688.70 358.58h-2.2" stroke="#000" stroke-width="0.5" fill="none"/>
<g transform="scale(0.1)" font-size="63.00" fill="#000">
<text x="7041.5" y="5867.0" text-anchor="middle">50</text>
<text x="7305.5" y="5867.0" text-anchor="middle">75</text>
<text x="7569.5" y="5867.0" text-anchor="middle">100</text>
<text x="7833.6" y="5867.0" text-anchor="middle">125</text>
<text x="8097.6" y="5867.0" text-anchor="middle">150</text>
<text x="8361.7" y="5867.0" text-anchor="middle">175</text>
<text x="6843.0" y="5802.5" text-anchor="end">0</text>
<text x="6843.0" y="5489.8" text-anchor="end">50</text>
<text x="6843.0" y="5177.0" text-anchor="end">100</text>
<text x="6843.0" y="4864.3" text-anchor="end">150</text>
<text x="6843.0" y="4551.5" text-anchor="end">200</text>
<text x="6843.0" y="4238.8" text-anchor="end">250</text>
<text x="6843.0" y="3926.1" text-anchor="end">300</text>
<text x="6843.0" y="3613.3" text-anchor="end">350</text>
<text x="7738.0" y="5957.0" text-anchor="middle">Logarithm of Water Solubility (LogSw)</text>
<text transform="translate(6689.7 4614.0) rotate(-90)" text-anchor="middle">Frequency</text>
<text x="7738.0" y="3399.0" text-anchor="middle" font-size="76.00">LogSw Distribution</text>
</g>
</g>
<g>
<rect x="891.00" y="343.50" width="170.20" height="234.00" fill="#fff"/>
<clipPath id="cp7"><rect x="891.00" y="343.50" width="170.20" height="234.00"/></clipPath>
<g clip-path="url(#cp7)" fill="rgb(238,238,252)" stroke="rgb(49,49,59)" stroke-width="0.66">
<rect x="898.74" y="571.61" width="5.16" height="5.89"/>
<rect x="903.89" y="573.30" width="5.16" height="4.20"/>
<rect x="909.05" y="571.61" width="5.16" height="5.89"/>
<rect x="914.21" y="573.30" width="5.16" height="4.20"/>
<rect x="919.37" y="557.32" width="5.16" height="20.18"/>
<rect x="924.52" y="544.70" width="5.16" height="32.80"/>
<rect x="929.68" y="533.77" width="5.16" height="43.73"/>
<rect x="934.84" y="541.34" width="5.16" height="36.16"/>
<rect x="940.00" y="530.41" width="5.16" height="47.09"/>
<rect x="945.15" y="523.68" width="5.16" height="53.82"/>
<rect x="950.31" y="515.27" width="5.16" height="62.23"/>
<rect x="955.47" y="486.68" width="5.16" height="90.82"/>
<rect x="960.63" y="471.54" width="5.16" height="105.96"/>
<rect x="965.78" y="455.56" width="5.16" height="121.94"/>
<rect x="970.94" y="469.86" width="5.16" height="107.64"/>
<rect x="976.10" y="463.13" width="5.16" height="114.37"/>
<rect x="981.26" y="437.06" width="5.16" height="140.44"/>
<rect x="986.42" y="422.76" width="5.16" height="154.74"/>
<rect x="991.57" y="405.10" width="5.16" height="172.40"/>
<rect x="996.73" y="400.06" width="5.16" height="177.44"/>
<rect x="1001.89" y="379.87" width="5.16" height="197.63"/>
<rect x="1007.05" y="416.87" width="5.16" height="160.63"/>
<rect x="1012.20" y="387.44" width="5.16" height="190.06"/>
<rect x="1017.36" y="369.78" width="5.16" height="207.72"/>
<rect x="1022.52" y="356.32" width="5.16" height="221.18"/>
<rect x="1027.68" y="364.73" width="5.16" height="212.77"/>
<rect x="1032.83" y="370.62" width="5.16" height="206.88"/>
<rect x="1037.99" y="354.64" width="5.16" height="222.86"/>
<rect x="1043.15" y="423.60" width="5.16" height="153.90"/>
<rect x="1048.31" y="508.54" width="5.16" height="68.96"/>
</g>
<rect x="891.00" y="343.50" width="170.20" height="234.00" fill="none" stroke="#000" stroke-width="0.6"/>
<path d="M915.52 577.50v2.2M952.40 577.50v2.2M989.29 577.50v2.2M1026.17 577.50v2.2M891.00 577.50h-2.2M891.00 535.45h-2.2M891.00 493.40h-2.2M891.00 451.35h-2.2M891.00 409.31h-2.2M891.00 367.26h-2.2" stroke="#000" stroke-width="0.5" fill="none"/>
<g transform="scale(0.1)" font-size="63.00" fill="#000">
<text x="9155.2" y="5867.0" text-anchor="middle">0.2</text>
<text x="9524.0" y="5867.0" text-anchor="middle">0.4</text>
<text x="9892.9" y="5867.0" text-anchor="middle">0.6</text>
<text x="10261.7" y="5867.0" text-anchor="middle">0.8</text>
<text x="8866.0" y="5802.5" text-anchor="end">0</text>
<text x="8866.0" y="5382.0" text-anchor="end">50</text>
<text x="8866.0" y="4961.5" text-anchor="end">100</text>
<text x="8866.0" y="4541.0" text-anchor="end">150</text>
<text x="8866.0" y="4120.6" text-anchor="end">200</text>
<text x="8866.0" y="3700.1" text-anchor="end">250</text>
<text x="9761.0" y="5957.0" text-anchor="middle">Quantitative Estimation of Drug-likeness (QED)</text>
<text transform="translate(8712.7 4614.0) rotate(-90)" text-anchor="middle">Frequency</text>
<text x="9761.0" y="3399.0" text-anchor="middle" font-size="76.00">QED Distribution</text>
</g>
</g>
</svg>
<div id="title">Phys-Chem properties _Part 2</div>
<div id="brand">ChemDiv</div>
<div id="tag">The chemistry of cures<sup>SM</sup></div>
</body></html>
